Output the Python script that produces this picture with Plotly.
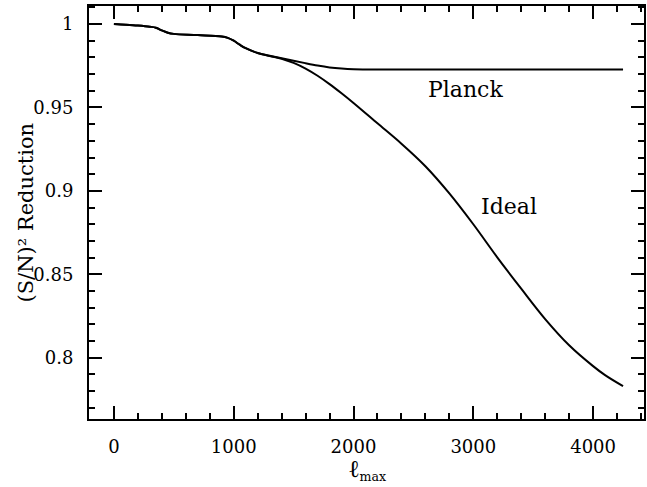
import plotly.graph_objects as go

# Data
l_planck = [0, 100, 200, 300, 350, 400, 450, 500, 700, 900, 950, 1000, 1050, 1100, 1200, 1300,
            1400, 1500, 1600, 1700, 1800, 1900, 2000, 2100, 2500, 3000, 3500, 4000, 4250]
planck = [1.0, 0.9996, 0.9991, 0.9984, 0.9978, 0.9962, 0.9948, 0.9941, 0.9934, 0.9925, 0.9917,
          0.9900, 0.9876, 0.9855, 0.9826, 0.9810, 0.9795, 0.9780, 0.9765, 0.9751, 0.9740,
          0.9733, 0.9729, 0.9728, 0.9728, 0.9728, 0.9728, 0.9728, 0.9728]

l_ideal = [0, 100, 200, 300, 350, 400, 450, 500, 700, 900, 950, 1000, 1050, 1100, 1200, 1300,
           1400, 1500, 1600, 1700, 1800, 1900, 2000, 2200, 2400, 2600, 2800, 3000, 3200,
           3400, 3600, 3800, 4000, 4100, 4250]
ideal = [1.0, 0.9996, 0.9991, 0.9984, 0.9978, 0.9962, 0.9948, 0.9941, 0.9934, 0.9925, 0.9917,
         0.9900, 0.9876, 0.9855, 0.9826, 0.9808, 0.9792, 0.9767, 0.9733, 0.9690, 0.9640,
         0.9585, 0.9527, 0.9405, 0.9283, 0.9148, 0.8985, 0.8800, 0.8602, 0.8414, 0.8232,
         0.8075, 0.7950, 0.7896, 0.7830]

x_ticks = [0, 1000, 2000, 3000, 4000]
y_ticks = [0.8, 0.85, 0.9, 0.95, 1.0]
y_tick_text = ["0.8", "0.85", "0.9", "0.95", "1"]

labels = [("Planck", 2935, 0.9605), ("Ideal", 3300, 0.8905)]

X_RANGE = [-208, 4425]
Y_RANGE = [0.7633, 1.0108]

FONT = "DejaVu Serif"

fig = go.Figure()
for xs, ys in [(l_planck, planck), (l_ideal, ideal)]:
    fig.add_trace(go.Scatter(x=xs, y=ys, mode="lines", hoverinfo="skip",
                             line=dict(color="black", width=2, shape="spline", smoothing=1.0)))
# invisible trace so the mirrored (top/right) axes are drawn
fig.add_trace(go.Scatter(x=[X_RANGE[0]], y=[Y_RANGE[0]], xaxis="x2", yaxis="y2",
                         mode="markers", marker=dict(opacity=0), hoverinfo="skip"))

for text, x, y in labels:
    fig.add_annotation(x=x, y=y, text=text, showarrow=False,
                       font=dict(family=FONT, size=22, color="black"))

fig.add_annotation(xref="paper", yref="paper", x=0, y=0.5, xshift=-64,
                   xanchor="center", yanchor="middle",
                   text="(S/N)² Reduction", textangle=-90, showarrow=False,
                   font=dict(family=FONT, size=21, color="black"))
fig.add_annotation(xref="paper", yref="paper", x=0.5, y=0, yshift=-34,
                   xanchor="center", yanchor="top",
                   text="<span style='font-size:24px'>ℓ</span><sub>max</sub>",
                   showarrow=False,
                   font=dict(family=FONT, size=18, color="black"))

tick_common = dict(
    showgrid=False, zeroline=False, showline=True, linecolor="black", linewidth=2,
    ticks="inside", ticklen=13, tickwidth=2, tickcolor="black",
    tickfont=dict(family=FONT, size=18, color="black"), automargin=False,
)
xminor = dict(dtick=200, tick0=0, ticks="inside", ticklen=6, tickwidth=2, tickcolor="black")
yminor = dict(dtick=0.01, tick0=0.8, ticks="inside", ticklen=6, tickwidth=2, tickcolor="black")

fig.update_layout(
    width=647, height=487,
    margin=dict(l=89, r=3, t=6, b=68),
    paper_bgcolor="white", plot_bgcolor="white",
    showlegend=False,
    xaxis=dict(range=X_RANGE, tickvals=x_ticks, minor=xminor, ticklabelstandoff=10,
               **tick_common),
    yaxis=dict(range=Y_RANGE, tickvals=y_ticks, ticktext=y_tick_text, minor=yminor,
               ticklabelstandoff=10, **tick_common),
    xaxis2=dict(range=X_RANGE, tickvals=x_ticks, minor=xminor, overlaying="x", side="top",
                anchor="y2", showticklabels=False, **tick_common),
    yaxis2=dict(range=Y_RANGE, tickvals=y_ticks, minor=yminor, overlaying="y", side="right",
                anchor="x2", showticklabels=False, **tick_common),
)

fig.write_html("out.html")
